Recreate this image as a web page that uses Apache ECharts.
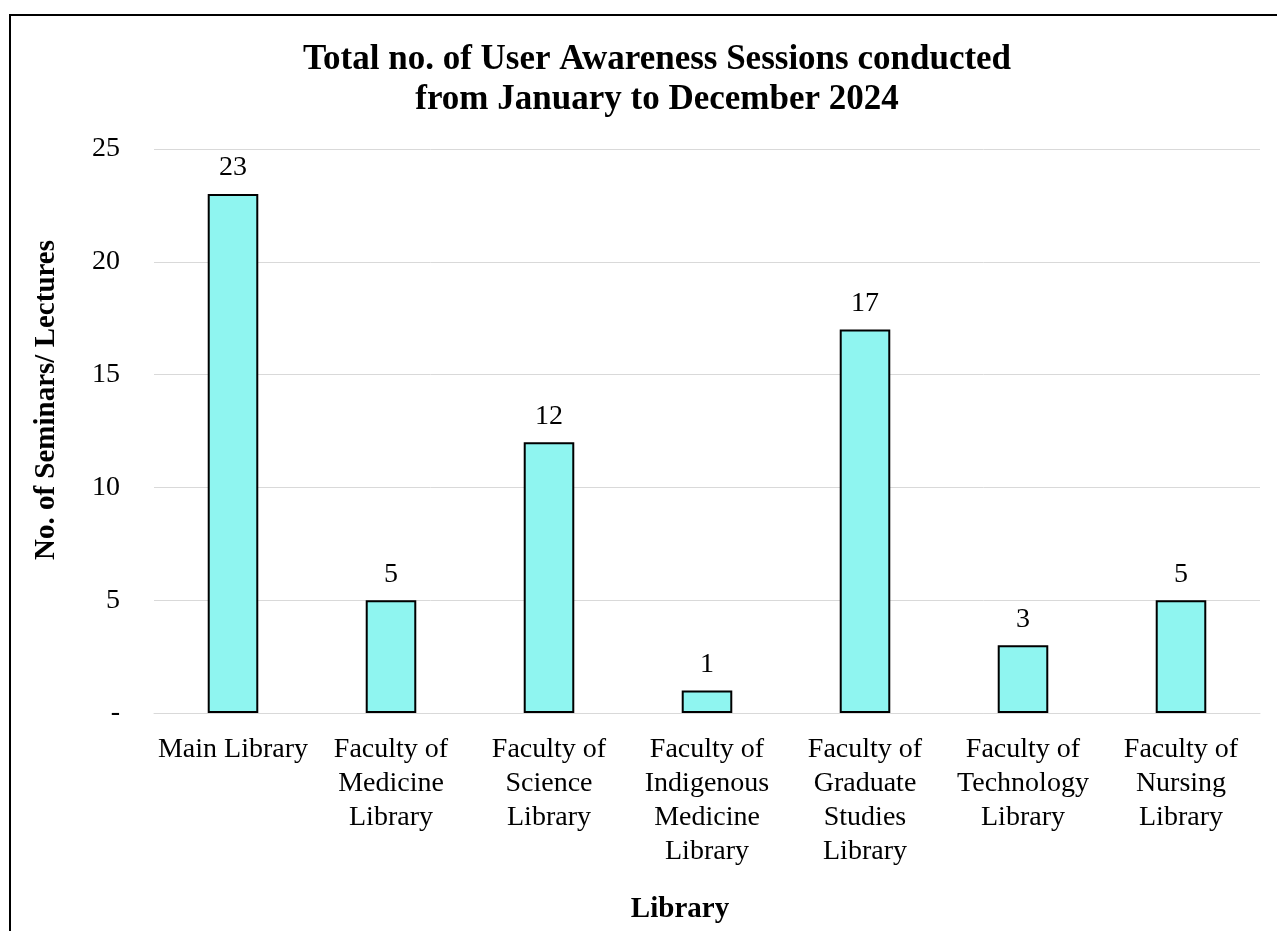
<!DOCTYPE html>
<html>
<head>
<meta charset="utf-8">
<script src="https://cdn.jsdelivr.net/npm/echarts@6/dist/echarts.min.js"></script>
<style>
  html, body { margin: 0; padding: 0; background: #fff; }
  #chart { width: 1277px; height: 931px; }
</style>
</head>
<body>
<div id="chart"></div>
<script>
var categories = [
    'Main Library',
    'Faculty of\nMedicine\nLibrary',
    'Faculty of\nScience\nLibrary',
    'Faculty of\nIndigenous\nMedicine\nLibrary',
    'Faculty of\nGraduate\nStudies\nLibrary',
    'Faculty of\nTechnology\nLibrary',
    'Faculty of\nNursing\nLibrary'
];
var sessions = [23, 5, 12, 1, 17, 3, 5];
var yTicks = [0, 5, 10, 15, 20, 25];

var font = '"Liberation Serif", "Times New Roman", serif';
var chart = echarts.init(document.getElementById('chart'));

var option = {
    backgroundColor: '#fff',
    animation: false,
    textStyle: { fontFamily: font },
    title: {
        text: 'Total no. of User Awareness Sessions conducted\nfrom January to December 2024',
        left: 652,
        top: 35,
        textAlign: 'center',
        textStyle: {
            fontFamily: font,
            fontSize: 35,
            fontWeight: 'bold',
            color: '#000',
            lineHeight: 40
        }
    },
    graphic: [
        {
            type: 'rect',
            shape: { x: 10, y: 15, width: 1300, height: 1000 },
            style: { fill: 'none', stroke: '#000', lineWidth: 2 }
        },
        {
            // x axis title
            type: 'text',
            x: 680,
            y: 910,
            style: {
                text: 'Library',
                font: 'bold 29px ' + font,
                fill: '#000',
                textAlign: 'center',
                textVerticalAlign: 'middle'
            }
        },
        {
            // y axis title
            type: 'text',
            x: 47,
            y: 400,
            rotation: Math.PI / 2,
            style: {
                text: 'No. of Seminars/ Lectures',
                font: 'bold 29px ' + font,
                fill: '#000',
                textAlign: 'center',
                textVerticalAlign: 'middle'
            }
        }
    ],
    grid: {
        left: 154,
        right: 17,
        top: 149,
        bottom: 218
    },
    xAxis: {
        type: 'category',
        data: categories,
        axisLine: { show: true, lineStyle: { color: '#d9d9d9', width: 1 } },
        axisTick: { show: false },
        axisLabel: {
            interval: 0,
            margin: 20,
            fontFamily: font,
            fontSize: 28,
            lineHeight: 34,
            color: '#000'
        }
    },
    yAxis: {
        type: 'value',
        min: yTicks[0],
        max: yTicks[yTicks.length - 1],
        interval: 5,
        axisLine: { show: false },
        axisTick: { show: false },
        splitLine: { lineStyle: { color: '#d9d9d9', width: 1 } },
        axisLabel: {
            margin: 34,
            fontFamily: font,
            fontSize: 28,
            color: '#000',
            formatter: function (v) { return v === 0 ? '-' : String(v); }
        }
    },
    series: [{
        type: 'bar',
        data: sessions,
        barWidth: '32%',
        itemStyle: {
            color: '#8ff5f0',
            borderColor: '#000',
            borderWidth: 2
        },
        label: {
            show: true,
            position: 'top',
            distance: 12,
            fontFamily: font,
            fontSize: 28,
            color: '#000'
        }
    }]
};

chart.setOption(option);
</script>
</body>
</html>
